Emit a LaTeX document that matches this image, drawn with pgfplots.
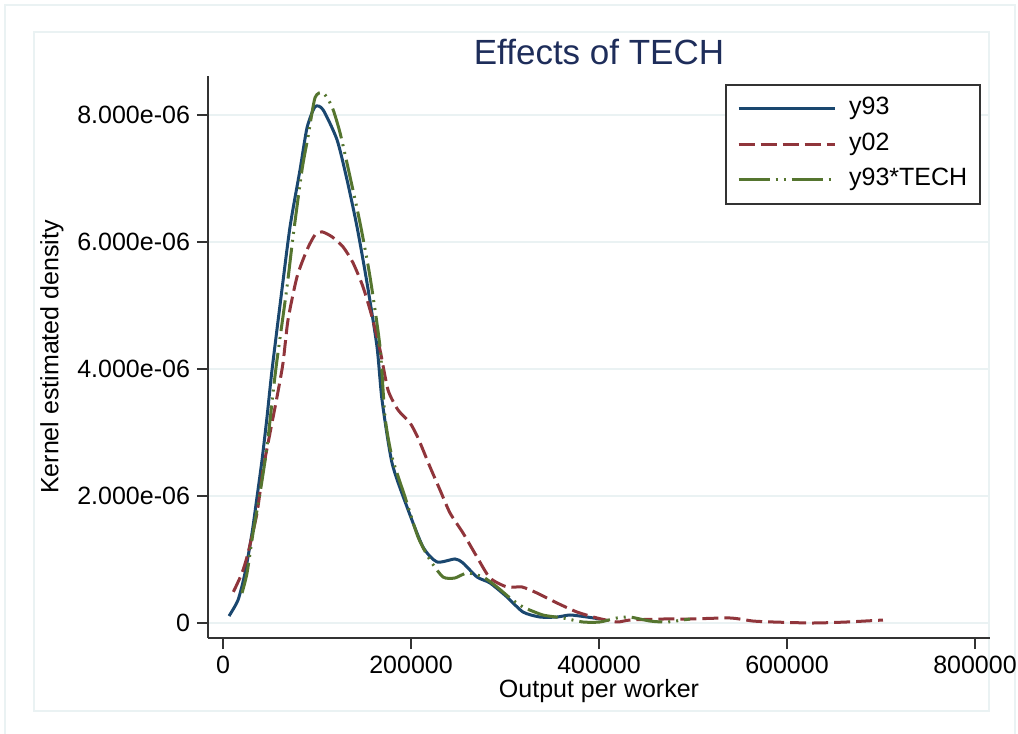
\documentclass[border=0pt]{standalone}
\usepackage{fontspec}
\setmainfont{Liberation Sans}
\usepackage{pgfplots}
\pgfplotsset{compat=1.18}
\definecolor{snavy}{RGB}{26,71,111}
\definecolor{smaroon}{RGB}{144,53,59}
\definecolor{sgreen}{RGB}{85,117,47}
\definecolor{gridc}{RGB}{234,242,243}
\definecolor{titlec}{RGB}{30,45,90}
\begin{document}
\begin{tikzpicture}
\path[use as bounding box] (-104pt,-48pt) rectangle (405pt,319pt);
\draw[gridc, line width=1.2pt] (-101.5pt,-60pt) -- (-101.5pt,316.5pt) -- (403.5pt,316.5pt) -- (403.5pt,-60pt);
\draw[gridc, line width=1pt] (-87pt,-36.5pt) rectangle (390.5pt,303pt);
\begin{axis}[
  at={(0pt,0pt)}, anchor=south west,
  scale only axis, width=391pt, height=281pt,
  xmin=-16000, xmax=816000,
  ymin=-0.236e-6, ymax=8.61e-6,
  axis x line=bottom, axis y line=left,
  axis line style={-, black!80, line width=0.8pt},
  tick style={black!80, line width=0.8pt},
  tick align=outside, major tick length=5.5pt,
  xtick={0,200000,400000,600000,800000},
  xticklabels={0,200000,400000,600000,800000},
  ytick={0,2e-6,4e-6,6e-6,8e-6},
  yticklabels={0,2.000e-06,4.000e-06,6.000e-06,8.000e-06},
  scaled ticks=false,
  /pgf/number format/assume math mode=true,
  ticklabel style={font=\fontsize{12.5}{15}\selectfont},
  ymajorgrids, grid style={gridc, line width=1.2pt},
  title={Effects of TECH},
  title style={at={(axis description cs:0.5,1)}, anchor=base, yshift=-0.5pt, font=\fontsize{17.5}{21}\selectfont, text=titlec},
  xlabel={Output per worker},
  ylabel={Kernel estimated density},
  every axis x label/.style={at={(axis description cs:0.5,-0.0943)}, anchor=center, font=\fontsize{12.5}{15}\selectfont},
  every axis y label/.style={at={(axis description cs:-0.1995,0.5)}, anchor=center, rotate=90, font=\fontsize{12.5}{15}\selectfont},
  legend style={at={(rel axis cs:0.9885,0.9858)}, anchor=north east, draw=black!80, line width=0.8pt,
    font=\fontsize{12.5}{15}\selectfont, inner xsep=5.5pt, inner ysep=5pt,
    nodes={text height=9pt, text depth=3pt, inner sep=1pt}, row sep=3.75pt},
  legend cell align=left,
  legend image code/.code={\draw[#1] (0pt,0pt) -- (48pt,0pt); \path (53.5pt,0pt);},
]
\addplot[snavy, line width=1.5pt, smooth, tension=0.4] coordinates {
(6383,0.110e-6) (15957,0.362e-6) (23404,0.787e-6) (30850,1.417e-6) (36169,1.984e-6)
(41488,2.567e-6) (46807,3.244e-6) (52126,3.984e-6) (61700,5.13e-6) (71275,6.236e-6)
(81913,7.134e-6) (89359,7.795e-6) (97870,8.126e-6) (106380,8.079e-6) (121273,7.606e-6)
(131911,6.976e-6) (142549,6.236e-6) (153187,5.354e-6) (163826,4.346e-6) (169145,3.512e-6)
(179784,2.520e-6) (195741,1.827e-6) (212762,1.197e-6) (227655,0.961e-6) (246802,1.008e-6)
(255312,0.945e-6) (270205,0.724e-6) (284035,0.630e-6) (302119,0.409e-6) (319140,0.173e-6)
(337225,0.094e-6) (355310,0.094e-6) (369139,0.126e-6) (387224,0.094e-6) (401053,0.063e-6)
};
\addlegendentry{y93}
\addplot[smaroon, line width=1.5pt, dash pattern=on 8pt off 3pt, smooth, tension=0.4] coordinates {
(11000,0.49e-6) (20212,0.787e-6) (26595,1.102e-6) (36169,1.732e-6) (42552,2.409e-6)
(49998,2.992e-6) (57445,3.559e-6) (63828,4.094e-6) (69147,4.772e-6) (78721,5.449e-6)
(89359,5.874e-6) (97870,6.110e-6) (105316,6.157e-6) (115954,6.079e-6) (127656,5.921e-6)
(138294,5.669e-6) (148932,5.291e-6) (158506,4.819e-6) (167017,4.299e-6) (175527,3.669e-6)
(186165,3.354e-6) (198931,3.150e-6) (207441,2.913e-6) (220207,2.457e-6) (230845,2.094e-6)
(241483,1.732e-6) (255312,1.417e-6) (270205,1.039e-6) (284035,0.709e-6) (302119,0.567e-6)
(318076,0.567e-6) (334033,0.472e-6) (355310,0.315e-6) (376586,0.173e-6) (397863,0.079e-6)
(419139,0.016e-6) (432968,0.047e-6) (468073,0.063e-6) (496795,0.063e-6) (539347,0.079e-6)
(563815,0.031e-6) (585090,0.016e-6) (627642,0.000) (663811,0.016e-6) (702111,0.047e-6)
};
\addlegendentry{y02}
\addplot[sgreen, line width=1.5pt, dash pattern=on 15.5pt off 3pt on 1pt off 3pt on 1pt off 3pt, smooth, tension=0.4] coordinates {
(20212,0.472e-6) (25531,0.787e-6) (31914,1.417e-6) (39361,2.047e-6) (46807,2.772e-6)
(53190,3.622e-6) (57445,4.142e-6) (68083,5.291e-6) (74466,6.079e-6) (84040,7.134e-6)
(90423,7.654e-6) (97870,8.268e-6) (106380,8.346e-6) (115954,8.126e-6) (124465,7.717e-6)
(135103,7.024e-6) (145741,6.299e-6) (156379,5.449e-6) (167017,4.346e-6) (172336,3.244e-6)
(179784,2.614e-6) (193613,1.984e-6) (207441,1.354e-6) (220207,0.992e-6) (234037,0.724e-6)
(246802,0.709e-6) (259568,0.787e-6) (276589,0.724e-6) (291482,0.567e-6) (305311,0.394e-6)
(319140,0.252e-6) (340417,0.126e-6) (361693,0.079e-6) (382969,0.016e-6) (401053,0.016e-6)
(419139,0.079e-6) (432968,0.094e-6) (454245,0.031e-6) (472329,0.016e-6) (496795,0.063e-6)
};
\addlegendentry{y93*TECH}
\end{axis}
\end{tikzpicture}
\end{document}
